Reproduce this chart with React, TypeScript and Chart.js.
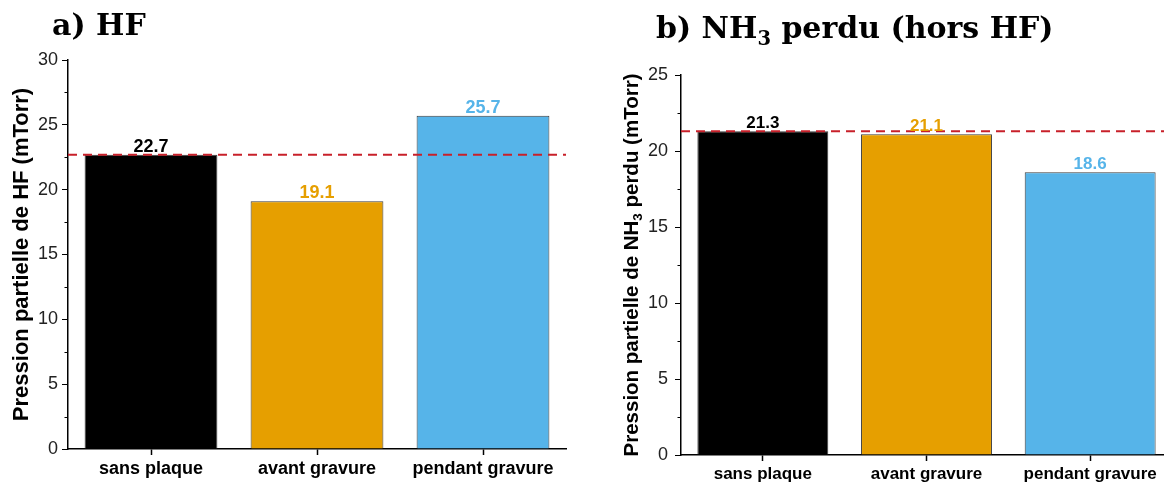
import React, { useEffect, useRef } from "react";
import { Chart, registerables } from "chart.js";

Chart.register(...registerables);

// ---------- data ----------
const categories = ["sans plaque", "avant gravure", "pendant gravure"];
const hfValues = [22.7, 19.1, 25.7];
const nh3Values = [21.3, 21.1, 18.6];
const hfReference = 22.7;
const nh3Reference = 21.3;
const barColors = ["#000000", "#E69F00", "#56B4E9"];
const hfMinorTicks = [2.5, 7.5, 12.5, 17.5, 22.5, 27.5];
const nh3MinorTicks = [2.5, 7.5, 12.5, 17.5, 22.5];

type Seg = { t: string; sub?: boolean };

const SANS = "'Liberation Sans', Arial, sans-serif";
const SERIF = "'DejaVu Serif', serif";

function segWidth(ctx: CanvasRenderingContext2D, segs: Seg[], size: number, family: string, weight: string) {
  let w = 0;
  for (const s of segs) {
    ctx.font = `${weight} ${s.sub ? size * 0.65 : size}px ${family}`;
    w += ctx.measureText(s.t).width;
  }
  return w;
}

function drawSegs(
  ctx: CanvasRenderingContext2D,
  segs: Seg[],
  x: number,
  y: number,
  size: number,
  family: string,
  weight: string,
  color: string
) {
  let cx = x;
  ctx.textAlign = "left";
  ctx.textBaseline = "alphabetic";
  ctx.fillStyle = color;
  for (const s of segs) {
    const fs = s.sub ? size * 0.65 : size;
    ctx.font = `${weight} ${fs}px ${family}`;
    ctx.fillText(s.t, cx, y + (s.sub ? size * 0.22 : 0));
    cx += ctx.measureText(s.t).width;
  }
}

type Panel = {
  values: number[];
  reference: number;
  minor: number[];
  yMax: number;
  padTop: number;
  padRight: number;
  padLeft: number;
  yWidth: number;
  xHeight: number;
  tickFont: number;
  tickPad: number;
  xFont: number;
  labelFont: number;
  title: Seg[];
  titleX: number;
  titleY: number;
  titleSize: number;
  yTitle: Seg[];
  yTitleX: number;
  yTitleSize: number;
};

function makeChart(canvas: HTMLCanvasElement, p: Panel) {
  const decor = {
    id: "decor",
    afterDatasetsDraw(chart: any) {
      const ctx: CanvasRenderingContext2D = chart.ctx;
      const area = chart.chartArea;
      const y = chart.scales.y;
      // minor ticks
      ctx.save();
      ctx.strokeStyle = "#000";
      ctx.lineWidth = 1;
      for (const v of p.minor) {
        const py = Math.round(y.getPixelForValue(v)) + 0.5;
        ctx.beginPath();
        ctx.moveTo(area.left - 3.5, py);
        ctx.lineTo(area.left, py);
        ctx.stroke();
      }
      // reference dashed line
      const ry = y.getPixelForValue(p.reference);
      ctx.strokeStyle = "#C8202A";
      ctx.lineWidth = 2;
      ctx.setLineDash([9, 6]);
      ctx.beginPath();
      ctx.moveTo(area.left, ry);
      ctx.lineTo(area.right, ry);
      ctx.stroke();
      ctx.setLineDash([]);
      // value labels
      const meta = chart.getDatasetMeta(0);
      ctx.font = `bold ${p.labelFont}px ${SANS}`;
      ctx.textAlign = "center";
      ctx.textBaseline = "alphabetic";
      meta.data.forEach((bar: any, i: number) => {
        ctx.fillStyle = barColors[i];
        ctx.fillText(p.values[i].toFixed(1), bar.x, bar.y - 3);
      });
      ctx.restore();
    },
    afterDraw(chart: any) {
      const ctx: CanvasRenderingContext2D = chart.ctx;
      const area = chart.chartArea;
      ctx.save();
      drawSegs(ctx, p.title, p.titleX, p.titleY, p.titleSize, SERIF, "bold", "#000");
      const w = segWidth(ctx, p.yTitle, p.yTitleSize, SANS, "bold");
      ctx.translate(p.yTitleX, (area.top + area.bottom) / 2);
      ctx.rotate(-Math.PI / 2);
      drawSegs(ctx, p.yTitle, -w / 2, p.yTitleSize * 0.36, p.yTitleSize, SANS, "bold", "#000");
      ctx.restore();
    },
  };

  return new Chart(canvas, {
    type: "bar",
    data: {
      labels: categories,
      datasets: [
        {
          data: p.values,
          backgroundColor: barColors,
          borderColor: "#3c3c3c",
          borderWidth: 1,
          categoryPercentage: 1,
          barPercentage: 0.8,
        },
      ],
    },
    options: {
      responsive: false,
      animation: false,
      layout: { padding: { left: p.padLeft, right: p.padRight, top: p.padTop, bottom: 0 } },
      plugins: { legend: { display: false }, tooltip: { enabled: false }, title: { display: false } },
      scales: {
        x: {
          type: "category",
          offset: true,
          grid: { display: true, drawOnChartArea: false, offset: false, tickLength: 6, tickColor: "#000", tickWidth: 1.5 },
          border: { display: true, color: "#000", width: 1.5 },
          ticks: { font: { family: SANS, size: p.xFont, weight: "bold" }, color: "#000", padding: 3, maxRotation: 0 },
          afterFit: (s: any) => {
            s.height = p.xHeight;
          },
        },
        y: {
          min: 0,
          max: p.yMax,
          ticks: { stepSize: 5, font: { family: SANS, size: p.tickFont }, color: "#222", padding: p.tickPad },
          grid: { display: true, drawOnChartArea: false, tickLength: 6, tickColor: "#000", tickWidth: 1 },
          border: { display: true, color: "#000", width: 1.5 },
          afterFit: (s: any) => {
            s.width = p.yWidth;
          },
        },
      },
    },
    plugins: [decor],
  } as any);
}

const leftPanel: Panel = {
  values: hfValues,
  reference: hfReference,
  minor: hfMinorTicks,
  yMax: 30,
  padTop: 60,
  padRight: 14,
  padLeft: 0,
  yWidth: 68,
  xHeight: 37,
  tickFont: 18,
  tickPad: 4,
  xFont: 18,
  labelFont: 18,
  title: [{ t: "a) HF" }],
  titleX: 52,
  titleY: 35,
  titleSize: 30,
  yTitle: [{ t: "Pression partielle de HF (mTorr)" }],
  yTitleX: 20.5,
  yTitleSize: 22,
};

const rightPanel: Panel = {
  values: nh3Values,
  reference: nh3Reference,
  minor: nh3MinorTicks,
  yMax: 25,
  padTop: 75,
  padRight: 8,
  padLeft: 0,
  yWidth: 101,
  xHeight: 31,
  tickFont: 18,
  tickPad: 7,
  xFont: 17,
  labelFont: 17,
  title: [{ t: "b) NH" }, { t: "3", sub: true }, { t: " perdu (hors HF)" }],
  titleX: 76,
  titleY: 38,
  titleSize: 30,
  yTitle: [{ t: "Pression partielle de NH" }, { t: "3", sub: true }, { t: " perdu (mTorr)" }],
  yTitleX: 50.5,
  yTitleSize: 20.5,
};

export default function App() {
  const leftRef = useRef<HTMLCanvasElement | null>(null);
  const rightRef = useRef<HTMLCanvasElement | null>(null);

  useEffect(() => {
    const a = makeChart(leftRef.current!, leftPanel);
    const b = makeChart(rightRef.current!, rightPanel);
    return () => {
      a.destroy();
      b.destroy();
    };
  }, []);

  return (
    <div style={{ position: "fixed", left: 0, top: 0, width: 1164, height: 486, overflow: "hidden", background: "#fff" }}>
      <canvas
        ref={leftRef}
        width={580}
        height={486}
        style={{ position: "absolute", left: 0, top: 0, width: 580, height: 486 }}
      />
      <canvas
        ref={rightRef}
        width={600}
        height={486}
        style={{ position: "absolute", left: 580, top: 0, width: 600, height: 486 }}
      />
    </div>
  );
}
